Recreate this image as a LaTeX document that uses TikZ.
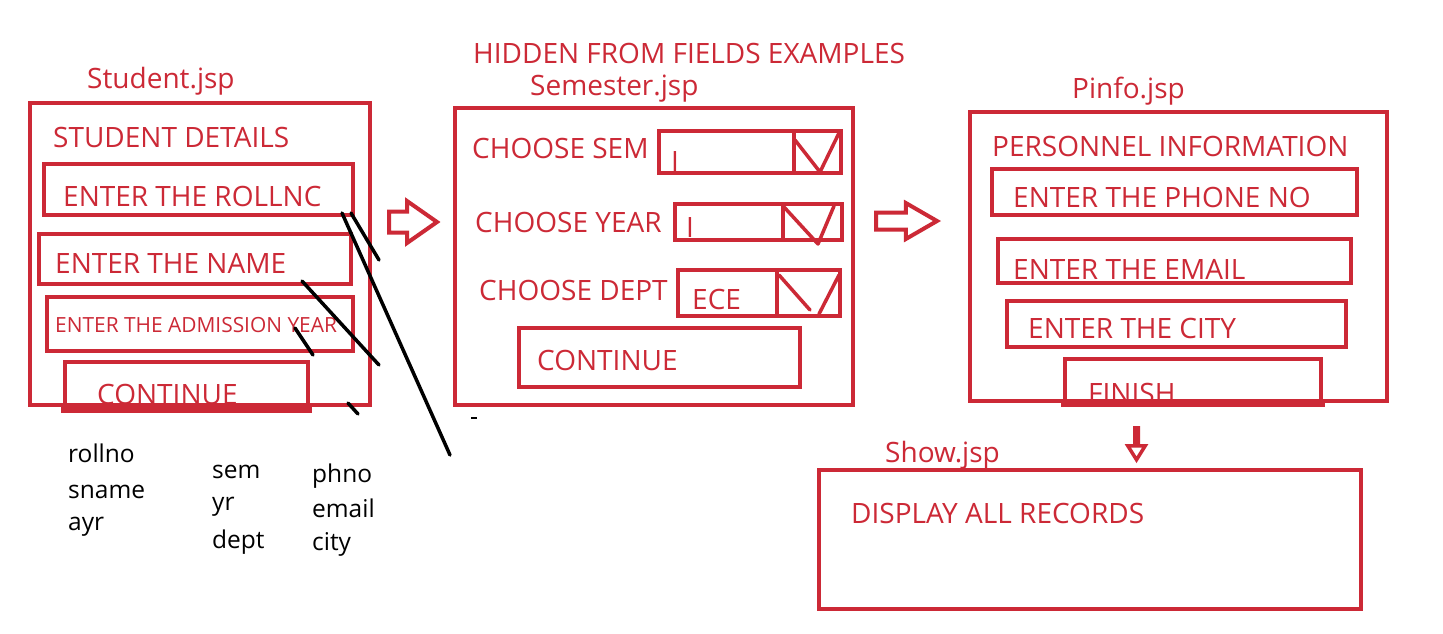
\documentclass[tikz,border=0pt]{standalone}
\usepackage{fontspec}
\setmainfont{Open Sans}
\usetikzlibrary{shapes.arrows,fit}
\definecolor{pen}{RGB}{204,41,54}
\begin{document}
\begin{tikzpicture}[x=1pt,y=-1pt,
  frame/.style={draw=pen,line width=4pt,inner sep=0pt},
  lbl/.style={text=pen,inner sep=0pt,anchor=base west,font=\fontsize{28}{30}\selectfont},
  lblsmall/.style={lbl,font=\fontsize{20.9}{23}\selectfont},
  note/.style={text=black,inner sep=0pt,anchor=base west,font=\fontsize{24.5}{26}\selectfont},
  tickline/.style={draw=pen,line width=3.5pt,line cap=round,line join=round},
  divider/.style={draw=pen,line width=3.5pt},
  ink/.style={draw=black,line width=3.5pt,line cap=round},
  blockarrow/.style={single arrow,draw=pen,line width=4pt,fill=white,anchor=tail}]
\useasboundingbox[fill=white] (0,0) rectangle (1443,633);

% ---------- Student.jsp ----------
\node[frame,fit={(30,103) (370,405)}] (student) {};
\node[lbl] (studentT) at (87,88) {Student.jsp};
\node[lbl] (studentH) at (53,147) {STUDENT DETAILS};
\node[frame,fit={(44,164) (353,215)}] (roll) {};
\node[lbl] (rollT) at (63,206) {ENTER THE ROLLNC};
\node[frame,fit={(39,234) (351,284)}] (sname) {};
\node[lbl] (snameT) at (55,273) {ENTER THE NAME};
\node[frame,fit={(47,297) (353,351)}] (ayr) {};
\node[lblsmall] (ayrT) at (55,332) {ENTER THE ADMISSION YEAR};
\node[lbl] (cont1T) at (97,404) {CONTINUE};
\node[frame,fit={(65,362) (308,407)}] (cont1) {};
\draw[pen,line width=7pt] ([xshift=-2pt]cont1.south west) -- ([xshift=2pt]cont1.south east);

% ---------- arrow 1 ----------
\node[blockarrow,minimum height=48pt,inner xsep=0pt,inner ysep=8.5pt,
      single arrow head extend=10.5pt,single arrow tip angle=70] (arrA) at (387,222) {};

% ---------- Semester.jsp ----------
\node[lbl] (hidden) at (473,63) {HIDDEN FROM FIELDS EXAMPLES};
\node[lbl] (semT) at (530,95) {Semester.jsp};
\node[frame,fit={(455,108) (853,405)}] (semester) {};
\node[lbl] (csem) at (472,158) {CHOOSE SEM};
\node[frame,fit={(659,131) (841,173)}] (dd1) {};
\draw[divider] (794,131) -- (794,173);
\draw[tickline] (795,140) -- (820,172) -- (839,133);
\node[lbl] (dd1T) at (671,171) {I};
\node[lbl] (cyear) at (475,232) {CHOOSE YEAR};
\node[frame,fit={(675,204) (842,240)}] (dd2) {};
\draw[divider] (783,204) -- (783,240);
\draw[tickline] (784,207) -- (818,244) -- (834,206);
\node[lbl] (dd2T) at (686,237) {I};
\node[lbl] (cdept) at (479,300) {CHOOSE DEPT};
\node[frame,fit={(678,270) (840,316)}] (dd3) {};
\draw[divider] (777,270) -- (777,316);
\draw[tickline] (779,275) -- (810,310);
\draw[tickline] (819,314) -- (839,275);
\node[lbl] (dd3T) at (692,309) {ECE};
\node[frame,fit={(519,328) (800,387)}] (cont2) {};
\node[lbl] (cont2T) at (537,370) {CONTINUE};
\draw[black,line width=1.5pt] (471,418) -- (477,418);

% ---------- arrow 2 ----------
\node[blockarrow,minimum height=61pt,inner xsep=0pt,inner ysep=6.5pt,
      single arrow head extend=9.5pt,single arrow tip angle=60] (arrB) at (874,221) {};

% ---------- Pinfo.jsp ----------
\node[lbl] (pinfoT) at (1072,98) {Pinfo.jsp};
\node[frame,fit={(970,112) (1387,401)}] (pinfo) {};
\node[lbl] (pinfoH) at (992,156) {PERSONNEL INFORMATION};
\node[frame,fit={(992,169) (1357,215)}] (phone) {};
\node[lbl] (phoneT) at (1013,207) {ENTER THE PHONE NO};
\node[frame,fit={(998,239) (1351,283)}] (email) {};
\node[lbl] (emailT) at (1013,279) {ENTER THE EMAIL};
\node[frame,fit={(1007,301) (1346,347)}] (city) {};
\node[lbl] (cityT) at (1028,338) {ENTER THE CITY};
\node[lbl] (finishT) at (1088,403) {FINISH};
\node[frame,fit={(1065,359) (1321,401)}] (finish) {};
\draw[pen,line width=7pt] ([xshift=-2pt]finish.south west) -- ([xshift=2pt]finish.south east);

% ---------- arrow down ----------
\node[blockarrow,shape border rotate=270,minimum height=32pt,inner xsep=0pt,inner ysep=4pt,
      single arrow head extend=7pt,single arrow tip angle=64,line width=3.5pt] (arrC) at (1136.5,426) {};

% ---------- Show.jsp ----------
\node[lbl] (showT) at (885,462) {Show.jsp};
\node[frame,fit={(819,470) (1361,609)}] (show) {};
\node[lbl] (showH) at (851,523) {DISPLAY ALL RECORDS};

% ---------- field names ----------
\node[note] (n1) at (68,462) {rollno};
\node[note] (n2) at (68,498) {sname};
\node[note] (n3) at (68,530) {ayr};
\node[note] (n4) at (212,478) {sem};
\node[note] (n5) at (212,510) {yr};
\node[note] (n6) at (212,548) {dept};
\node[note] (n7) at (312,482) {phno};
\node[note] (n8) at (312,517) {email};
\node[note] (n9) at (312,550) {city};

% ---------- black strokes ----------
\draw[ink] (342,213) -- (450,455);
\draw[ink] (351,213) -- (379,260);
\draw[ink] (302,281) -- (379,365);
\draw[ink] (295,328) -- (313,355);
\draw[ink] (348,403) -- (358,414);
\end{tikzpicture}
\end{document}
